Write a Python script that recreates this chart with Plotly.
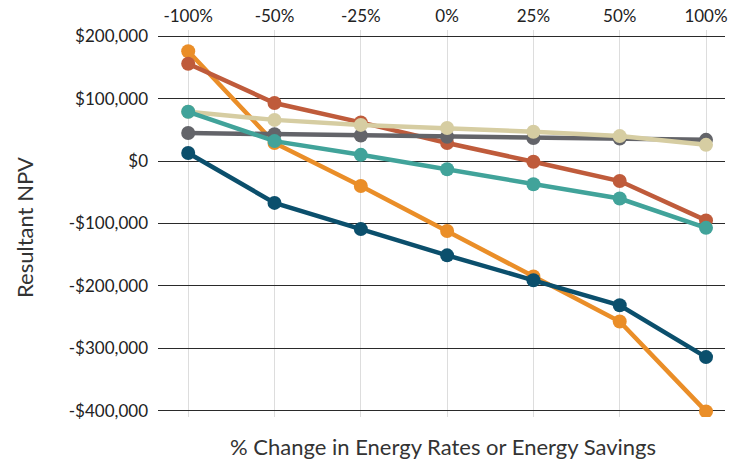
import plotly.graph_objects as go

categories = ["-100%", "-50%", "-25%", "0%", "25%", "50%", "100%"]
orange = [176000, 29000, -40000, -112000, -185000, -257000, -401000]
dark_blue = [13000, -67000, -109000, -151000, -191000, -231000, -314000]
red = [156000, 93000, 62000, 29000, -1000, -32000, -95000]
grey = [45000, 43000, 41000, 39000, 37000, 36000, 34000]
beige = [79000, 66000, 58000, 53000, 47000, 40000, 26000]
teal = [79000, 32000, 10000, -13000, -37000, -60000, -107000]

y_ticks = [200000, 100000, 0, -100000, -200000, -300000, -400000]
y_tick_labels = ["$200,000", "$100,000", "$0", "-$100,000", "-$200,000", "-$300,000", "-$400,000"]

series = [
    ("Orange", orange, "#EA8E28"),
    ("Dark blue", dark_blue, "#0B4F6C"),
    ("Red", red, "#BF5B3B"),
    ("Grey", grey, "#636469"),
    ("Beige", beige, "#D6CDA2"),
    ("Teal", teal, "#41A39A"),
]

fig = go.Figure()
for name, vals, col in series:
    fig.add_trace(go.Scatter(
        x=list(range(len(categories))), y=vals, name=name, mode="lines+markers",
        line=dict(color=col, width=4.5), marker=dict(color=col, size=14),
        showlegend=False,
    ))

font = "Lato, 'Open Sans', sans-serif"
L, R, T, B = 158, 725, 30, 417
fig.update_layout(
    width=750, height=471,
    margin=dict(l=L, r=750 - R, t=T, b=471 - B),
    paper_bgcolor="white", plot_bgcolor="white",
    font=dict(family=font, size=17, color="#222"),
    xaxis=dict(
        side="top", tickmode="array", tickvals=list(range(len(categories))),
        ticktext=categories, range=[-0.35, 6.22], automargin=False,
        showgrid=True, gridcolor="#dddddd", gridwidth=1,
        zeroline=False, showline=False, ticks="", tickfont=dict(size=17),
        ticklabelstandoff=4,
    ),
    yaxis=dict(
        tickmode="array", tickvals=y_ticks, ticktext=y_tick_labels, automargin=False,
        range=[-410000, 210000], showgrid=True, gridcolor="#2a2a2a", gridwidth=1,
        zeroline=False, showline=False, ticks="", tickfont=dict(size=17),
        ticklabelstandoff=9,
    ),
    annotations=[
        dict(text="% Change in Energy Rates or Energy Savings", xref="paper", yref="paper",
             x=(443 - L) / (R - L), y=-(446 - B) / (B - T), xanchor="center", yanchor="middle",
             showarrow=False, font=dict(size=22, color="#333")),
        dict(text="Resultant NPV", xref="paper", yref="paper",
             x=-(L - 24) / (R - L), y=(B - 228) / (B - T), xanchor="center", yanchor="middle",
             textangle=-90, showarrow=False, font=dict(size=22, color="#333")),
    ],
)

fig.write_html("out.html", config={"displayModeBar": False},
               post_script="document.body.style.margin='0';document.body.style.overflow='hidden';")
